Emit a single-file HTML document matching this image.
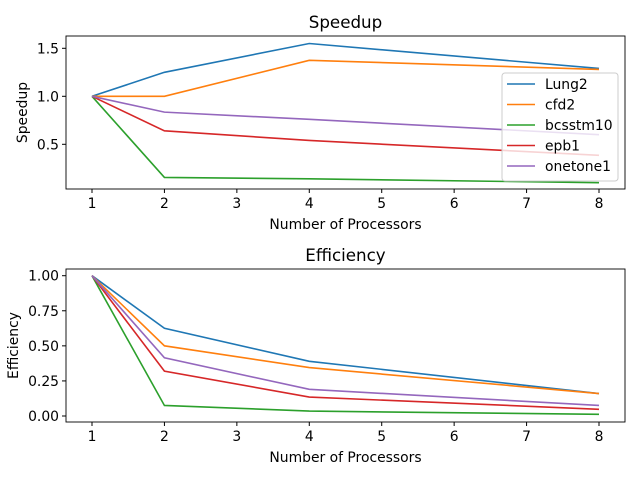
<!DOCTYPE html>
<html><head><meta charset="utf-8"><style>
body{margin:0;background:#fff;}
svg text{font-family:"DejaVu Sans","Liberation Sans",sans-serif;}
</style></head><body>
<svg id="chart" width="640" height="480"></svg>
<script>
const procs=[1,2,4,8];
const seriesNames=["Lung2","cfd2","bcsstm10","epb1","onetone1"];
const colors=["#1f77b4","#ff7f0e","#2ca02c","#d62728","#9467bd"];
const speedLung2=[1,1.25,1.55,1.29];
const speedCfd2=[1,1.0,1.375,1.28];
const speedBcsstm10=[1,0.155,0.14,0.10];
const speedEpb1=[1,0.64,0.54,0.385];
const speedOnetone1=[1,0.835,0.76,0.60];
const effLung2=[1,0.625,0.39,0.16];
const effCfd2=[1,0.5,0.345,0.16];
const effBcsstm10=[1,0.075,0.035,0.012];
const effEpb1=[1,0.32,0.135,0.048];
const effOnetone1=[1,0.415,0.19,0.075];
const xTicks=[1,2,3,4,5,6,7,8];
const speedTicks=[0.5,1.0,1.5];
const effTicks=[0,0.25,0.5,0.75,1.0];

const NS="http://www.w3.org/2000/svg";
const svg=document.getElementById('chart');
function mk(tag,attrs,parent){const e=document.createElementNS(NS,tag);for(const k in attrs)e.setAttribute(k,attrs[k]);(parent||svg).appendChild(e);return e;}
const xS=v=>92+(v-1)*(599-92)/7;
const ySpeed=v=>96.3-(v-1)*96;
const yEff=v=>416-v*140.3;

function panel(top,bottom,yS,yTicks,fmt,data,title,ylabel,pname){
  const g=mk('g',{});
  
  
  const t=mk('text',{x:345.5,y:top-8,'font-size':16.7,'text-anchor':'middle'},g);t.textContent=title;
  
  data.forEach((d,i)=>{
    const p=mk('polyline',{points:d.map((v,j)=>xS(procs[j])+','+yS(v)).join(' '),fill:'none',stroke:colors[i],'stroke-width':1.6},g);
    
    
  });
  mk('rect',{x:66,y:top,width:559,height:bottom-top,fill:'none',stroke:'#000','stroke-width':0.9},g);
  xTicks.forEach(v=>{
    mk('line',{x1:xS(v),x2:xS(v),y1:bottom,y2:bottom+4,stroke:'#000'},g);
    const tx=mk('text',{x:xS(v),y:bottom+19,'font-size':13.9,'text-anchor':'middle'},g);tx.textContent=v;
    
  });
  yTicks.forEach(v=>{
    mk('line',{x1:62,x2:66,y1:yS(v),y2:yS(v),stroke:'#000'},g);
    const ty=mk('text',{x:59,y:yS(v)+5,'font-size':13.9,'text-anchor':'end'},g);ty.textContent=fmt(v);
    
  });
  const xl=mk('text',{x:345.5,y:bottom+40,'font-size':13.9,'text-anchor':'middle'},g);xl.textContent='Number of Processors';
  
  const yc=(top+bottom)/2;
  const yl=mk('text',{x:0,y:0,'font-size':13.9,'text-anchor':'middle',transform:`translate(${pname==='speedup'?27:18},${yc}) rotate(-90)`},g);yl.textContent=ylabel;
  
}
panel(36,189,ySpeed,speedTicks,v=>v.toFixed(1),[speedLung2,speedCfd2,speedBcsstm10,speedEpb1,speedOnetone1],'Speedup','Speedup','speedup');
panel(269,422,yEff,effTicks,v=>v.toFixed(2),[effLung2,effCfd2,effBcsstm10,effEpb1,effOnetone1],'Efficiency','Efficiency','efficiency');

const lg=mk('g',{});


mk('rect',{x:502,y:73,width:116,height:108,rx:3,fill:'#fff','fill-opacity':0.8,stroke:'#ccc'},lg);
seriesNames.forEach((n,i)=>{
  const y=84+i*20.5;
  mk('line',{x1:507,x2:535,y1:y,y2:y,stroke:colors[i],'stroke-width':1.6},lg);
  const t=mk('text',{x:545,y:y+5,'font-size':13.9},lg);t.textContent=n;
  
  
});
</script>
</body></html>
